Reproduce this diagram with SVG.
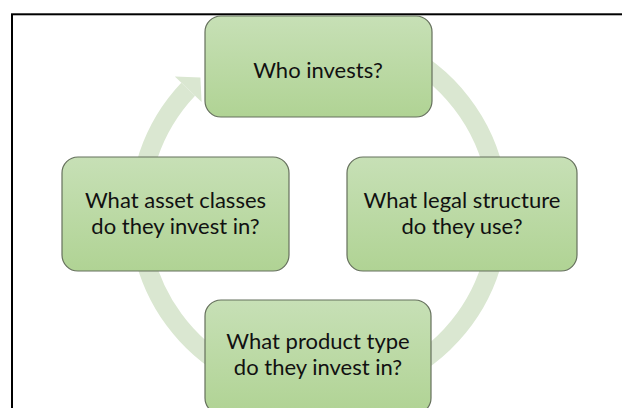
<svg xmlns="http://www.w3.org/2000/svg" width="622" height="408" viewBox="0 0 622 408">
<defs>
<linearGradient id="boxFill" x1="0" y1="0" x2="0" y2="1">
<stop offset="0" stop-color="#c7e0b6"/>
<stop offset="1" stop-color="#b0d394"/>
</linearGradient>
<style>
.box{fill:url(#boxFill);stroke:#65705c;stroke-width:1.2}
.lbl{font-family:"Lato","Liberation Sans",sans-serif;font-size:22px;fill:#111;text-anchor:middle}
.ring{fill:none;stroke:#dae7d1;stroke-width:19}
.head{fill:#dae7d1}
</style>
</defs>
<rect width="622" height="408" fill="#fff"/>
<rect x="12" y="14.3" width="640" height="420" fill="none" stroke="#000" stroke-width="2"/>
<g id="connectors">
<path class="ring" d="M 319 33 A 180 180 0 1 1 188.2 89.3"/>
<polygon class="head" points="174.8,76.6 200.4,77.6 201.6,102"/>
</g>
<g id="node-who">
<rect class="box" x="205" y="16" width="227" height="101" rx="16"/>
<text class="lbl" x="318" y="78">Who invests?</text>
</g>
<g id="node-legal">
<rect class="box" x="347" y="157" width="230" height="114" rx="16"/>
<text class="lbl" x="462" y="208">What legal structure</text>
<text class="lbl" x="462" y="234">do they use?</text>
</g>
<g id="node-product">
<rect class="box" x="205" y="300" width="226" height="114" rx="16"/>
<text class="lbl" x="318" y="349">What product type</text>
<text class="lbl" x="318" y="375">do they invest in?</text>
</g>
<g id="node-asset">
<rect class="box" x="62" y="157" width="227" height="114" rx="16"/>
<text class="lbl" x="175.5" y="208">What asset classes</text>
<text class="lbl" x="175.5" y="234">do they invest in?</text>
</g>
</svg>
